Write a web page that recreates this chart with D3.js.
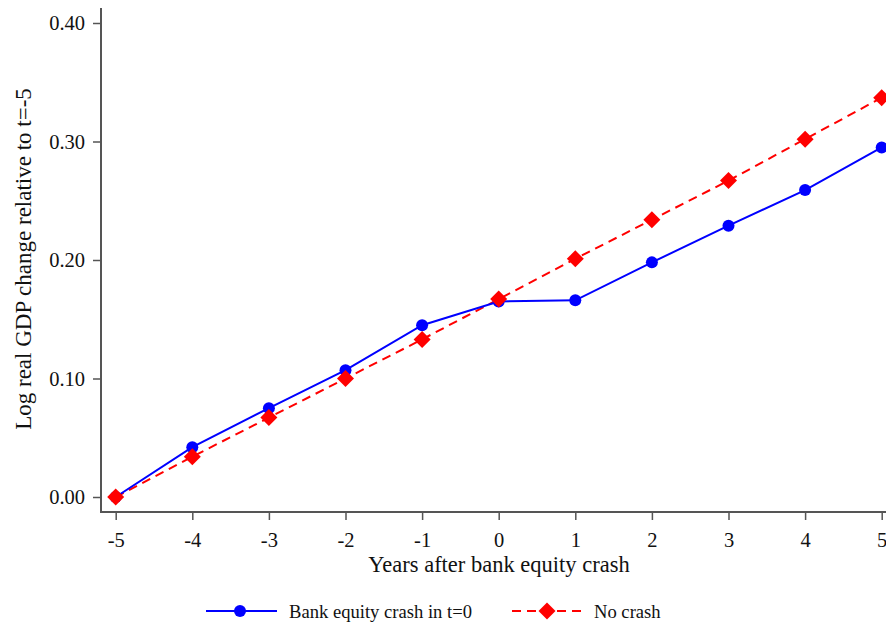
<!DOCTYPE html>
<html><head><meta charset="utf-8">
<script src="https://cdn.jsdelivr.net/npm/d3@7"></script>
<style>body{margin:0;background:#fff}svg{display:block}text{font-family:"Liberation Serif","Times New Roman",serif;fill:#111}</style>
</head><body><svg id="c" width="886" height="629"></svg>
<script>
const years = [-5,-4,-3,-2,-1,0,1,2,3,4,5];
const crash = [0.000,0.042,0.075,0.107,0.145,0.165,0.166,0.198,0.229,0.259,0.295];
const noCrash = [0.000,0.034,0.067,0.100,0.133,0.167,0.201,0.234,0.267,0.302,0.337];
const yTicks = [0,0.1,0.2,0.3,0.4];
const xTicks = years;

const svg = d3.select("#c");
const x = d3.scaleLinear().domain([-5,5]).range([115.7,881.7]);
const y = d3.scaleLinear().domain([0,0.4]).range([497,23]);
const axisColor = "#555";

// axes
const yAxis = svg.append("g").attr("transform","translate(101,0)")
  .call(d3.axisLeft(y).tickValues(yTicks).tickFormat(d3.format(".2f")).tickSize(8).tickSizeOuter(0).tickPadding(8));
yAxis.select(".domain").remove();
svg.append("line").attr("x1",101).attr("x2",101).attr("y1",8).attr("y2",513).attr("stroke",axisColor).attr("stroke-width",2);
const xAxis = svg.append("g").attr("transform","translate(0,520)")
  .call(d3.axisBottom(x).tickValues(xTicks).tickFormat(d=>String(d)).tickSize(8).tickSizeOuter(0).tickPadding(4));
xAxis.select(".domain").remove();
svg.append("line").attr("x1",100).attr("x2",886).attr("y1",512).attr("y2",512).attr("stroke",axisColor).attr("stroke-width",2);
xAxis.selectAll(".tick line").attr("transform","translate(0,-8)");
[yAxis,xAxis].forEach(a=>{
  a.selectAll(".tick line").attr("stroke",axisColor).attr("stroke-width",1.5);
  a.selectAll("text").attr("font-size",20.5).attr("fill","#111").style("font-family","Liberation Serif");
});

svg.append("text").attr("x",499).attr("y",572).attr("text-anchor","middle").attr("font-size",22.5).text("Years after bank equity crash");
svg.append("text").attr("transform","translate(31,259) rotate(-90)").attr("text-anchor","middle").attr("font-size",23).text("Log real GDP change relative to t=-5");

const line = d3.line().x((d,i)=>x(years[i])).y(d=>y(d));
svg.append("path").datum(noCrash).attr("d",line).attr("fill","none").attr("stroke","#ff0000").attr("stroke-width",2).attr("stroke-dasharray","9,6");
svg.append("path").datum(crash).attr("d",line).attr("fill","none").attr("stroke","#0000ff").attr("stroke-width",2);

svg.append("g").selectAll("circle").data(crash).join("circle")
  .attr("cx",(d,i)=>x(years[i])).attr("cy",d=>y(d)).attr("r",6).attr("fill","#0000ff");
const diamond = "M0,-8.5L8.5,0L0,8.5L-8.5,0Z";
svg.append("g").selectAll("path").data(noCrash).join("path")
  .attr("d",diamond).attr("transform",(d,i)=>`translate(${x(years[i])},${y(d)})`).attr("fill","#ff0000");

// legend
const lg = svg.append("g");
lg.append("line").attr("x1",206).attr("x2",277).attr("y1",611).attr("y2",611).attr("stroke","#0000ff").attr("stroke-width",2);
lg.append("circle").attr("cx",240).attr("cy",611).attr("r",6).attr("fill","#0000ff");
lg.append("text").attr("x",289).attr("y",618).attr("font-size",18.6).text("Bank equity crash in t=0");
lg.append("line").attr("x1",512).attr("x2",583).attr("y1",611).attr("y2",611).attr("stroke","#ff0000").attr("stroke-width",2).attr("stroke-dasharray","9,6");
lg.append("path").attr("d",diamond).attr("transform","translate(547,611)").attr("fill","#ff0000");
lg.append("text").attr("x",594).attr("y",618).attr("font-size",18.6).text("No crash");
</script></body></html>
